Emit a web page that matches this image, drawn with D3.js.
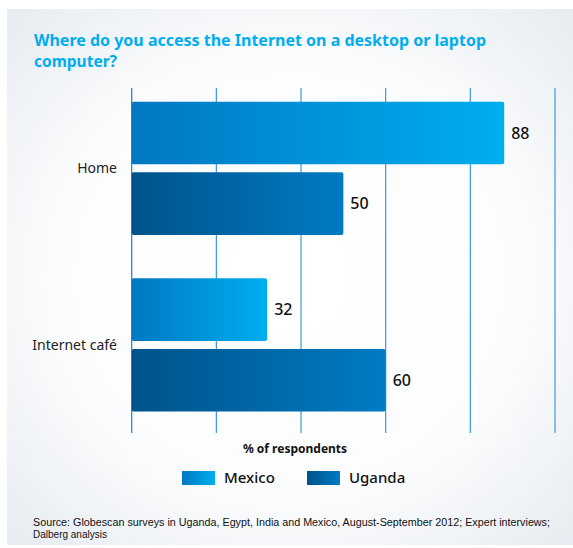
<!DOCTYPE html>
<html lang="en">
<head>
<meta charset="UTF-8">
<title>Internet access</title>
<script src="https://d3js.org/d3.v7.min.js"></script>
<style>
  body { margin: 0; background: #fff; }
  svg { display: block; font-family: "Noto Sans", "Open Sans", sans-serif; }
</style>
</head>
<body>
<div id="chart"></div>
<script>
  var categories = ["Home", "Internet café"]
  var seriesNames = ["Mexico", "Uganda"]
  var mexico = [88, 32]
  var uganda = [50, 60]
  var xTicks = [0, 20, 40, 60, 80, 100]

  var width = 573, height = 548
  var svg = d3.select("#chart").append("svg")
      .attr("width", width)
      .attr("height", height)

  var defs = svg.append("defs")
  var bg = defs.append("radialGradient").attr("id", "bg")
      .attr("cx", "50%").attr("cy", "50%").attr("r", "75%")
  bg.append("stop").attr("offset", "0%").attr("stop-color", "#ffffff")
  bg.append("stop").attr("offset", "55%").attr("stop-color", "#fbfcfd")
  bg.append("stop").attr("offset", "100%").attr("stop-color", "#e3e9ef")

  var grads = { Mexico: ["#0078c2", "#00aeef"], Uganda: ["#00538a", "#007bc4"] }
  seriesNames.forEach(function(s) {
    var g = defs.append("linearGradient").attr("id", "g" + s)
        .attr("x1", "0%").attr("x2", "100%").attr("y1", "0%").attr("y2", "0%")
    g.append("stop").attr("offset", "0%").attr("stop-color", grads[s][0])
    g.append("stop").attr("offset", "100%").attr("stop-color", grads[s][1])
  })

  // panel
  svg.append("rect")
      .attr("x", 7).attr("y", 9)
      .attr("width", width - 7).attr("height", 536)
      .attr("fill", "url(#bg)")

  // title
  var title = svg.append("text")
      .attr("fill", "#00aeef")
      .style("font-weight", "bold")
      .style("font-size", "16.5px")
  title.append("tspan").attr("x", 34).attr("y", 46)
      .attr("textLength", 452).attr("lengthAdjust", "spacingAndGlyphs")
      .text("Where do you access the Internet on a desktop or laptop")
  title.append("tspan").attr("x", 34).attr("y", 67)
      .attr("textLength", 83).attr("lengthAdjust", "spacingAndGlyphs")
      .text("computer?")

  var x = d3.scaleLinear().domain([0, 100]).range([131.7, 555])
  var y0 = d3.scaleBand().domain(categories).range([83.2, 436.4])
  var y1 = d3.scaleBand().domain(seriesNames).range([18.5, 151.8]).paddingInner(0.113)

  // grid
  svg.append("g").selectAll("line")
      .data(xTicks)
      .enter().append("line")
      .attr("x1", function(d) { return x(d) })
      .attr("x2", function(d) { return x(d) })
      .attr("y1", 88).attr("y2", 433)
      .attr("stroke", function(d) { return d === 0 ? "#1480cc" : "#3d9ad8" })
      .attr("stroke-width", 1.2)

  var rows = categories.map(function(c, i) {
    return { cat: c, values: [ { s: "Mexico", v: mexico[i] }, { s: "Uganda", v: uganda[i] } ] }
  })

  var groups = svg.selectAll(".grp")
      .data(rows)
      .enter().append("g")
      .attr("transform", function(d) { return "translate(0," + y0(d.cat) + ")" })

  groups.selectAll("rect")
      .data(function(d) { return d.values })
      .enter().append("rect")
      .attr("x", x(0))
      .attr("y", function(d) { return y1(d.s) })
      .attr("width", function(d) { return x(d.v) - x(0) })
      .attr("height", y1.bandwidth())
      .attr("rx", 2)
      .attr("fill", function(d) { return "url(#g" + d.s + ")" })

  groups.selectAll(".val")
      .data(function(d) { return d.values })
      .enter().append("text")
      .attr("x", function(d) { return x(d.v) + 7 })
      .attr("y", function(d) { return y1(d.s) + y1.bandwidth() / 2 })
      .attr("dy", "0.36em")
      .attr("fill", "#111")
      .style("font-size", "16px")
      .style("font-weight", "500")
      .text(function(d) { return d.v })

  groups.append("text")
      .attr("x", 117)
      .attr("y", 85)
      .attr("dy", "0.36em")
      .attr("text-anchor", "end")
      .attr("fill", "#222")
      .style("font-size", "14px")
      .text(function(d) { return d.cat })

  // axis title
  svg.append("text")
      .attr("x", 295).attr("y", 453)
      .attr("text-anchor", "middle")
      .attr("fill", "#111")
      .style("font-size", "12px")
      .style("font-weight", "bold")
      .text("% of respondents")

  // legend
  var legendX = { Mexico: 182, Uganda: 307 }
  var leg = svg.selectAll(".leg")
      .data(seriesNames)
      .enter().append("g")
      .attr("transform", function(d) { return "translate(" + legendX[d] + ",471)" })
  leg.append("rect")
      .attr("width", 33).attr("height", 14)
      .attr("fill", function(d) { return "url(#g" + d + ")" })
  leg.append("text")
      .attr("x", 42).attr("y", 7).attr("dy", "0.36em")
      .attr("fill", "#111")
      .style("font-size", "15px")
      .style("font-weight", "500")
      .text(function(d) { return d })

  // source, two separate lines
  svg.append("text")
      .attr("x", 33).attr("y", 526)
      .attr("fill", "#111")
      .style("font-family", "'Liberation Sans', sans-serif")
      .style("font-size", "10px")
      .attr("textLength", 517).attr("lengthAdjust", "spacingAndGlyphs")
      .text("Source: Globescan surveys in Uganda, Egypt, India and Mexico, August-September 2012; Expert interviews;")
  svg.append("text")
      .attr("x", 33).attr("y", 538)
      .attr("fill", "#111")
      .style("font-family", "'Liberation Sans', sans-serif")
      .style("font-size", "10px")
      .text("Dalberg analysis")
</script>
</body>
</html>
